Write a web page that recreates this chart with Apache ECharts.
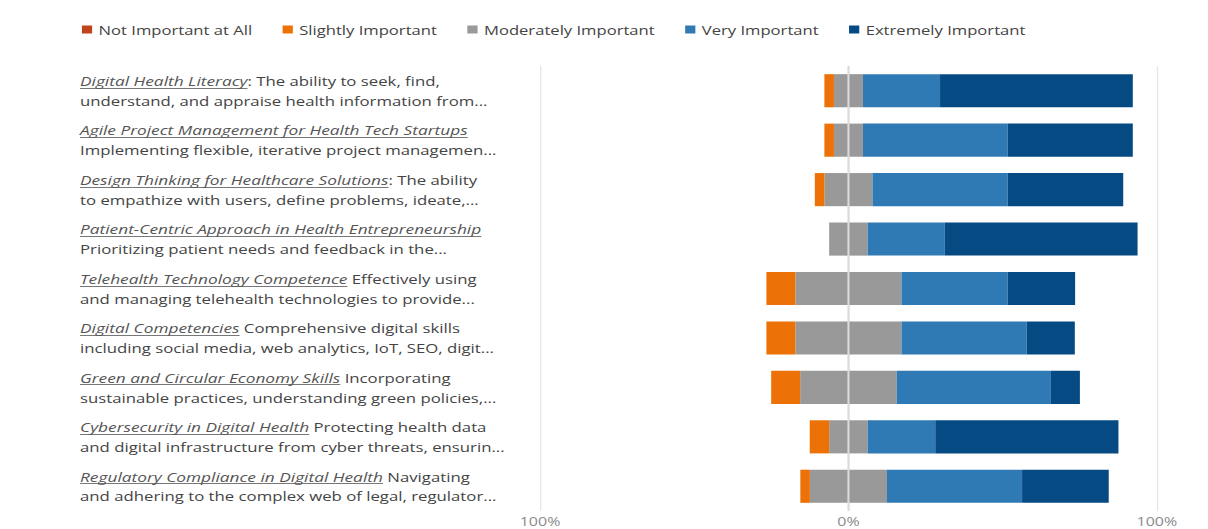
<!DOCTYPE html>
<html>
<head>
<meta charset="utf-8">
<title>Importance of digital health entrepreneurship skills</title>
<script src="https://cdn.jsdelivr.net/npm/echarts@6/dist/echarts.min.js"></script>
<style>
  html, body { margin: 0; padding: 0; background: #ffffff; overflow: hidden; }
  /* the chart is laid out on a narrower board and widened to the page */
  #chart { width: 944px; height: 529px; transform: scaleX(1.2797); transform-origin: 0 0; }
</style>
</head>
<body>
<div id="chart"></div>
<script>
// Skill topics: underlined title, rest of first line, second (truncated) line
const topicTitles = [
  'Digital Health Literacy',
  'Agile Project Management for Health Tech Startups',
  'Design Thinking for Healthcare Solutions',
  'Patient-Centric Approach in Health Entrepreneurship',
  'Telehealth Technology Competence',
  'Digital Competencies',
  'Green and Circular Economy Skills',
  'Cybersecurity in Digital Health',
  'Regulatory Compliance in Digital Health'
];
const topicLead = [
  ': The ability to seek, find,',
  '',
  ': The ability',
  '',
  ' Effectively using',
  ' Comprehensive digital skills',
  ' Incorporating',
  ' Protecting health data',
  ' Navigating'
];
const topicCont = [
  'understand, and appraise health information from...',
  'Implementing flexible, iterative project managemen...',
  'to empathize with users, define problems, ideate,...',
  'Prioritizing patient needs and feedback in the...',
  'and managing telehealth technologies to provide...',
  'including social media, web analytics, IoT, SEO, digit...',
  'sustainable practices, understanding green policies,...',
  'and digital infrastructure from cyber threats, ensurin...',
  'and adhering to the complex web of legal, regulator...'
];

// Share of respondents (%) per importance level
const notImportant      = [0, 0, 0, 0, 0, 0, 0, 0, 0];
const slightlyImportant = [3.1, 3.1, 3.1, 0, 9.4, 9.4, 9.4, 6.3, 3.1];
const moderatelyImportant = [9.4, 9.4, 15.6, 12.5, 34.4, 34.4, 31.3, 12.5, 25.0];
const veryImportant     = [25.0, 46.9, 43.8, 25.0, 34.4, 40.6, 50.0, 21.9, 43.8];
const extremelyImportant = [62.5, 40.6, 37.5, 62.5, 21.9, 15.6, 9.4, 59.4, 28.1];

const levelNames = ['Not Important at All', 'Slightly Important', 'Moderately Important', 'Very Important', 'Extremely Important'];
const levelColors = ['#c1441c', '#ec7207', '#999999', '#2f7ab5', '#064a83'];
const axisTicks = [-100, 0, 100];

const FONT = '"Open Sans", "Noto Sans", sans-serif';
const TITLE_SIZE = 13.5;
const BODY_SIZE = 13.1;

const categories = topicTitles.map((t, i) => i);

const chart = echarts.init(document.getElementById('chart'), null, { renderer: 'svg' });

function neg(arr) { return arr.map(v => -v); }
function half(arr, sign) { return arr.map(v => sign * v / 2); }

const barBase = {
  type: 'bar',
  stack: 'likert',
  barCategoryGap: '33%',
  emphasis: { disabled: true },
  animation: false
};

const option = {
  animation: false,
  backgroundColor: '#ffffff',
  color: levelColors,
  legend: {
    data: levelNames,
    left: 59,
    top: 18,
    itemWidth: 8,
    itemHeight: 8,
    itemGap: 23.6,
    icon: 'rect',
    textStyle: { color: '#444', fontSize: 13, fontFamily: FONT }
  },
  grid: { left: 422, right: 40, top: 66, bottom: 18, containLabel: false },
  xAxis: {
    type: 'value',
    min: axisTicks[0],
    max: axisTicks[axisTicks.length - 1],
    interval: 100,
    axisLine: { show: false },
    axisTick: { show: false },
    splitLine: { show: true, lineStyle: { color: '#e6e6e6', width: 1 } },
    axisLabel: {
      margin: 4,
      color: '#8a8a8a',
      fontSize: 12.5,
      fontFamily: FONT,
      formatter: v => Math.abs(v) + '%'
    }
  },
  yAxis: {
    type: 'category',
    data: categories,
    inverse: true,
    axisLine: { show: false },
    axisTick: { show: false },
    splitLine: { show: false },
    axisLabel: {
      align: 'left',
      margin: 359.5,
      formatter: (v, i) => '{t|' + topicTitles[i] + '}{r|' + topicLead[i] + '}\n{r|' + topicCont[i] + '}',
      rich: {
        t: { fontStyle: 'italic', color: '#555', fontSize: TITLE_SIZE, fontFamily: FONT, lineHeight: 20 },
        r: { color: '#444', fontSize: BODY_SIZE, fontFamily: FONT, lineHeight: 20 }
      }
    }
  },
  series: [
    // left side: moderate half nearest zero, then slightly, then not important
    Object.assign({}, barBase, { name: levelNames[2], data: half(moderatelyImportant, -1), itemStyle: { color: levelColors[2] } }),
    Object.assign({}, barBase, { name: levelNames[1], data: neg(slightlyImportant), itemStyle: { color: levelColors[1] } }),
    Object.assign({}, barBase, { name: levelNames[0], data: neg(notImportant), itemStyle: { color: levelColors[0] } }),
    // right side
    Object.assign({}, barBase, { name: levelNames[2], data: half(moderatelyImportant, 1), itemStyle: { color: levelColors[2] } }),
    Object.assign({}, barBase, { name: levelNames[3], data: veryImportant, itemStyle: { color: levelColors[3] } }),
    Object.assign({}, barBase, {
      name: levelNames[4], data: extremelyImportant, itemStyle: { color: levelColors[4] },
      markLine: {
        silent: true,
        symbol: 'none',
        label: { show: false },
        lineStyle: { color: '#dcdcdc', width: 1.6, type: 'solid' },
        data: [{ xAxis: 0 }],
        animation: false
      }
    })
  ]
};

chart.setOption(option);

// Underline each topic title beneath the first label line
(function drawUnderlines() {
  const ctx = document.createElement('canvas').getContext('2d');
  ctx.font = 'italic ' + TITLE_SIZE + 'px ' + FONT;
  const textLeft = option.grid.left - option.yAxis.axisLabel.margin;
  const lines = topicTitles.map((t, i) => {
    const cy = chart.convertToPixel({ yAxisIndex: 0 }, i);
    const w = ctx.measureText(t).width;
    const y = Math.round(cy - 3) + 0.5;
    return {
      type: 'line',
      silent: true,
      shape: { x1: textLeft, y1: y, x2: textLeft + w, y2: y },
      style: { stroke: '#777', lineWidth: 1 }
    };
  });
  chart.setOption({ graphic: lines });
})();
</script>
</body>
</html>
